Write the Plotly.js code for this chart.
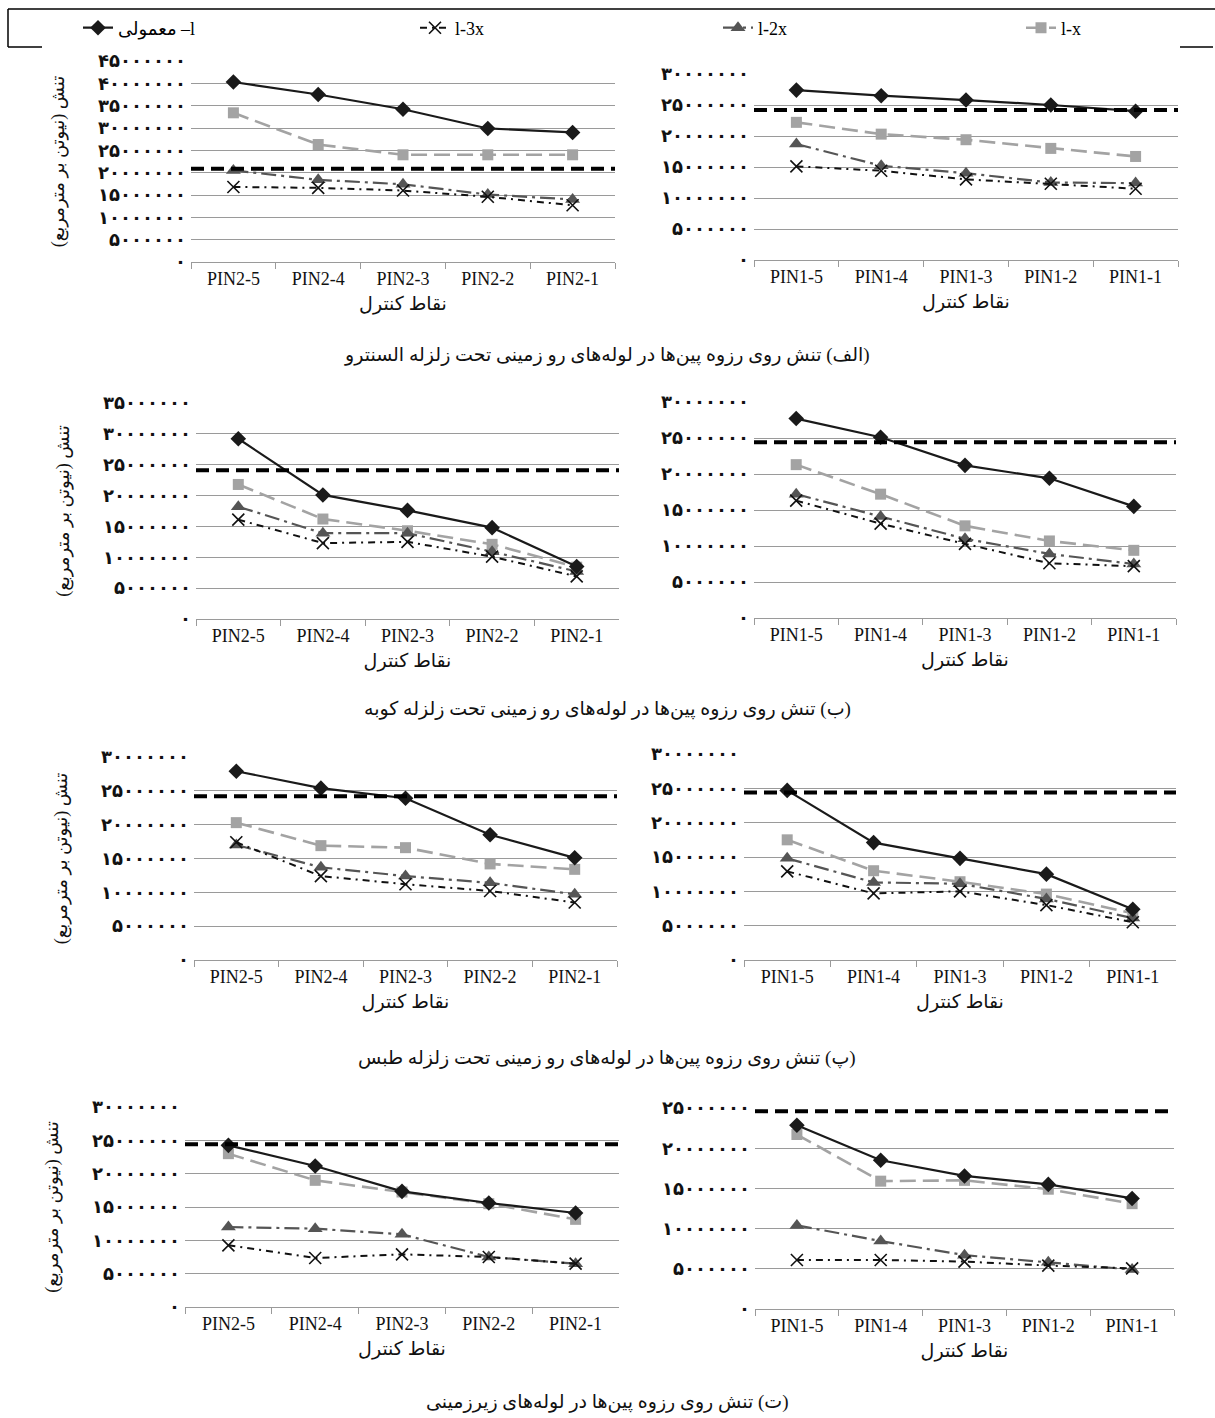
<!DOCTYPE html>
<html>
<head>
<meta charset="utf-8">
<script src="https://cdn.plot.ly/plotly-3.0.1.min.js"></script>
<style>
  body { margin: 0; background: #fff; }
</style>
</head>
<body>
<div id="chart" style="width:1215px;height:1418px"></div>
<script>
const pin2Points = ['PIN2-5', 'PIN2-4', 'PIN2-3', 'PIN2-2', 'PIN2-1']
const pin1Points = ['PIN1-5', 'PIN1-4', 'PIN1-3', 'PIN1-2', 'PIN1-1']

const seriesNames = ['l– معمولی', 'l-3x', 'l-2x', 'l-x']

// (الف) السنترو
const elCentroPin2Normal = [40300000, 37500000, 34200000, 29900000, 29000000]
const elCentroPin2L3x = [16800000, 16600000, 16000000, 14600000, 12700000]
const elCentroPin2L2x = [20500000, 18400000, 17400000, 15100000, 14000000]
const elCentroPin2Lx = [33400000, 26300000, 24000000, 24000000, 24000000]
const elCentroPin1Normal = [27400000, 26500000, 25800000, 25000000, 24000000]
const elCentroPin1L3x = [15100000, 14400000, 13000000, 12300000, 11500000]
const elCentroPin1L2x = [18700000, 15200000, 14000000, 12500000, 12400000]
const elCentroPin1Lx = [22200000, 20300000, 19400000, 18000000, 16700000]

// (ب) کوبه
const kobePin2Normal = [29200000, 20100000, 17600000, 14800000, 8500000]
const kobePin2L3x = [16100000, 12300000, 12500000, 10100000, 6900000]
const kobePin2L2x = [18200000, 13900000, 13900000, 10900000, 7700000]
const kobePin2Lx = [21800000, 16200000, 14300000, 12100000, 8400000]
const kobePin1Normal = [27700000, 25100000, 21200000, 19400000, 15500000]
const kobePin1L3x = [16300000, 13100000, 10300000, 7600000, 7200000]
const kobePin1L2x = [17200000, 14100000, 11000000, 8900000, 7500000]
const kobePin1Lx = [21300000, 17200000, 12800000, 10700000, 9400000]

// (پ) طبس
const tabasPin2Normal = [27900000, 25400000, 23900000, 18500000, 15100000]
const tabasPin2L3x = [17400000, 12400000, 11200000, 10200000, 8500000]
const tabasPin2L2x = [17000000, 13700000, 12400000, 11400000, 9700000]
const tabasPin2Lx = [20300000, 16900000, 16600000, 14200000, 13400000]
const tabasPin1Normal = [24700000, 17100000, 14800000, 12500000, 7400000]
const tabasPin1L3x = [12900000, 9700000, 10000000, 8000000, 5500000]
const tabasPin1L2x = [14800000, 11300000, 11100000, 8900000, 6100000]
const tabasPin1Lx = [17500000, 13000000, 11400000, 9600000, 6800000]

// (ت) زیرزمینی
const buriedPin2Normal = [24250000, 21150000, 17350000, 15600000, 14100000]
const buriedPin2L3x = [9250000, 7350000, 7900000, 7500000, 6500000]
const buriedPin2L2x = [12000000, 11750000, 10900000, 7500000, 6500000]
const buriedPin2Lx = [23000000, 19000000, 17250000, 15500000, 13150000]
const buriedPin1Normal = [22850000, 18500000, 16550000, 15500000, 13750000]
const buriedPin1L3x = [6100000, 6100000, 5900000, 5400000, 5050000]
const buriedPin1L2x = [10400000, 8450000, 6700000, 5800000, 4900000]
const buriedPin1Lx = [21700000, 15900000, 16000000, 14900000, 13100000]

// حد مجاز (خط چین ضخیم) و سقف محور هر نمودار
const allowableStress = [20900000, 24200000, 24100000, 24400000, 24200000, 24400000, 24400000, 24600000]
const axisTop = [45000000, 30000000, 35000000, 30000000, 30000000, 30000000, 30000000, 25000000]

const captions = [
    '(الف) تنش روی رزوه پین‌ها در لوله‌های رو زمینی تحت زلزله السنترو',
    '(ب) تنش روی رزوه پین‌ها در لوله‌های رو زمینی تحت زلزله کوبه',
    '(پ) تنش روی رزوه پین‌ها در لوله‌های رو زمینی تحت زلزله طبس',
    '(ت) تنش روی رزوه پین‌ها در لوله‌های زیرزمینی'
]
const yTitle = 'تنش (نیوتن بر مترمربع)'
const xTitle = 'نقاط کنترل'

const panels = [
    {cats: pin2Points, series: [elCentroPin2Normal, elCentroPin2L3x, elCentroPin2L2x, elCentroPin2Lx]},
    {cats: pin1Points, series: [elCentroPin1Normal, elCentroPin1L3x, elCentroPin1L2x, elCentroPin1Lx]},
    {cats: pin2Points, series: [kobePin2Normal, kobePin2L3x, kobePin2L2x, kobePin2Lx]},
    {cats: pin1Points, series: [kobePin1Normal, kobePin1L3x, kobePin1L2x, kobePin1Lx]},
    {cats: pin2Points, series: [tabasPin2Normal, tabasPin2L3x, tabasPin2L2x, tabasPin2Lx]},
    {cats: pin1Points, series: [tabasPin1Normal, tabasPin1L3x, tabasPin1L2x, tabasPin1Lx]},
    {cats: pin2Points, series: [buriedPin2Normal, buriedPin2L3x, buriedPin2L2x, buriedPin2Lx]},
    {cats: pin1Points, series: [buriedPin1Normal, buriedPin1L3x, buriedPin1L2x, buriedPin1Lx]},
]

// plot areas in page pixels: [left, right, top, bottom]
const frames = [
    [191, 615, 61, 262], [754, 1178, 74, 260],
    [196, 619, 403, 619], [754, 1176, 402, 618],
    [194, 617, 757, 960], [744, 1176, 754, 960],
    [185, 619, 1107, 1307], [755, 1174, 1108, 1309],
]
const captionY = [355, 709, 1058, 1402]

const W = 1215, H = 1418
const FONT = '"Liberation Serif", "DejaVu Sans", serif'
const GRID = '#9a9a9a'

const faDigits = '۰۱۲۳۴۵۶۷۸۹'
const toFa = n => String(n).replace(/\d/g, d => faDigits[d])
const rtl = s => '\u202B' + s + '\u202C'

const lineStyles = [
    {color: '#1a1a1a', dash: 'solid', width: 2.2, marker: {symbol: 'diamond', size: 12, color: '#1a1a1a'}},
    {color: '#111111', dash: '7px,5px,2px,5px', width: 2, marker: {symbol: 'x-thin', size: 12, color: '#111111', line: {width: 1.6, color: '#111111'}}},
    {color: '#555555', dash: '15px,5px,3px,5px', width: 2.2, marker: {symbol: 'triangle-up', size: 13, color: '#555555'}},
    {color: '#a3a3a3', dash: '16px,7px', width: 2.6, marker: {symbol: 'square', size: 11, color: '#a3a3a3'}},
]
const drawOrder = [3, 2, 1, 0]
// text slot of each legend entry (symbol + gaps add about 45px)
const legendWidths = [292, 258, 258, 60]

const data = []
const layout = {
    width: W, height: H,
    margin: {l: 0, r: 0, t: 0, b: 0},
    paper_bgcolor: '#fff',
    plot_bgcolor: 'rgba(0,0,0,0)',
    font: {family: FONT, color: '#111', size: 16},
    showlegend: true,
    legend: {
        orientation: 'h',
        x: 78 / W, xanchor: 'left',
        y: 1 - 28 / H, yanchor: 'middle',
        font: {family: FONT, size: 18, color: '#000'},
        bgcolor: 'rgba(0,0,0,0)',
        traceorder: 'normal',
        entrywidth: 258,
    },
    shapes: [],
    annotations: [],
}

panels.forEach((p, k) => {
    const i = k + 1
    const [l, r, t, b] = frames[k]
    const xd = [l / W, r / W]
    const yd = [1 - b / H, 1 - t / H]

    const tickvals = []
    for (let v = 0; v <= axisTop[k]; v += 5000000) tickvals.push(v)

    layout['xaxis' + i] = {
        domain: xd, anchor: 'y' + i, type: 'category',
        range: [-0.5, 4.5],
        showgrid: false, zeroline: false,
        showline: true, linecolor: GRID, linewidth: 1,
        ticks: 'outside', ticklen: 6, tickcolor: GRID, tickson: 'boundaries',
        tickfont: {family: FONT, size: 18, color: '#111'},
        title: {text: rtl(xTitle), standoff: 9, font: {family: FONT, size: 19, color: '#111'}},
    }
    layout['yaxis' + i] = {
        domain: yd, anchor: 'x' + i,
        range: [0, axisTop[k]],
        tickvals: tickvals, ticktext: tickvals.map(toFa),
        showgrid: true, gridcolor: GRID, gridwidth: 1,
        zeroline: false, showline: false, ticks: '',
        ticklabelstandoff: 4,
        tickfont: {family: FONT, size: 18, color: '#111', weight: 'bold'},
        title: k % 2 === 0 ? {text: rtl(yTitle), standoff: 28, font: {family: FONT, size: 18, color: '#111'}} : {text: ''},
    }
    // value axis line sits on the right (reversed categories)
    layout['yaxis' + (i + 8)] = {
        overlaying: 'y' + i, anchor: 'x' + i, side: 'right',
        range: [0, axisTop[k]], tickvals: tickvals,
        showticklabels: false, showgrid: false, zeroline: false,
        showline: true, linecolor: GRID, linewidth: 1,
        ticks: 'outside', ticklen: 5, tickcolor: GRID,
    }

    drawOrder.forEach(s => {
        const st = lineStyles[s]
        data.push({
            type: 'scatter', mode: 'lines+markers',
            x: p.cats, y: p.series[s],
            xaxis: 'x' + i, yaxis: 'y' + i,
            name: s === 0 ? rtl(seriesNames[s]) : seriesNames[s],
            legendgroup: 'g' + s,
            legendrank: s + 1,
            legendwidth: legendWidths[s],
            showlegend: k === 0,
            line: {color: st.color, dash: st.dash, width: st.width},
            marker: st.marker,
            hoverinfo: 'x+y+name',
        })
    })

    layout.shapes.push({
        type: 'line', layer: 'above',
        xref: 'x' + i + ' domain', x0: 0, x1: 1,
        yref: 'y' + i, y0: allowableStress[k], y1: allowableStress[k],
        line: {color: '#000', width: 4, dash: '13px,7px'},
    })
})

captions.forEach((c, j) => {
    layout.annotations.push({
        text: rtl(c), xref: 'paper', yref: 'paper',
        x: 607 / W, y: 1 - captionY[j] / H,
        xanchor: 'center', yanchor: 'middle', showarrow: false,
        font: {family: FONT, size: 19, color: '#111'},
    })
})

// legend frame, partly covered by the charts in the original
const frameLines = [[8, 9, 1215, 9], [8, 9, 8, 47], [8, 47, 42, 47], [1180, 47, 1213, 47]]
frameLines.forEach(([x0, y0, x1, y1]) => {
    layout.shapes.push({
        type: 'line', xref: 'paper', yref: 'paper',
        x0: x0 / W, x1: x1 / W, y0: 1 - y0 / H, y1: 1 - y1 / H,
        line: {color: '#000', width: 1.5},
    })
})

Plotly.newPlot('chart', data, layout, {displayModeBar: false, staticPlot: true})
</script>
</body>
</html>
